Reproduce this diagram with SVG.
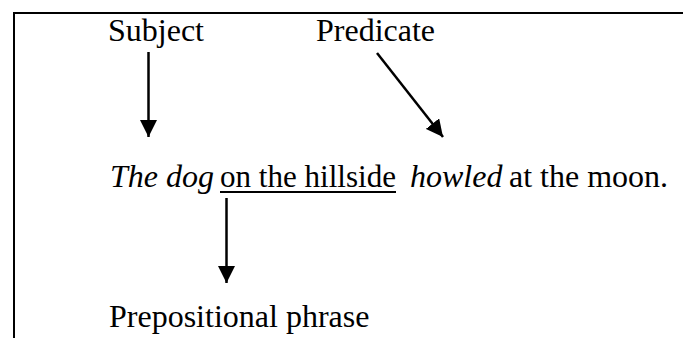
<svg xmlns="http://www.w3.org/2000/svg" width="683" height="338" viewBox="0 0 683 338">
<style>
.t{font-family:"Liberation Serif","Times New Roman",serif;font-size:32px;fill:#000}
.i{font-style:italic}
.c{stroke:#000;stroke-width:2.5;fill:none}
.frame{stroke:#000;stroke-width:2;fill:none}
</style>
<defs>
<marker id="ah" markerUnits="userSpaceOnUse" markerWidth="17" markerHeight="17" viewBox="0 0 16 16" refX="16" refY="8" orient="auto">
<path d="M0,0 L16,8 L0,16 Z" fill="#000"/>
</marker>
</defs>
<rect width="683" height="338" fill="#fff"/>
<path class="frame" d="M14,338 V13 H683"/>
<g id="subject"><text class="t" x="108" y="41">Subject</text></g>
<g id="predicate"><text class="t" x="316" y="41">Predicate</text></g>
<g id="sentence">
<text class="t" y="187"><tspan class="i" x="110">The dog</tspan> <tspan x="220" textLength="176" lengthAdjust="spacingAndGlyphs">on the hillside</tspan> <tspan class="i" x="410">howled</tspan> <tspan x="509">at the moon.</tspan></text>
<line x1="220" y1="192" x2="396" y2="192" stroke="#000" stroke-width="2"/>
</g>
<g id="prep"><text class="t" x="109" y="327">Prepositional phrase</text></g>
<g id="connectors">
<line class="c" x1="148.5" y1="52" x2="148.5" y2="137" marker-end="url(#ah)"/>
<line class="c" x1="377" y1="53" x2="443" y2="137" marker-end="url(#ah)"/>
<line class="c" x1="226.5" y1="198" x2="226.5" y2="283" marker-end="url(#ah)"/>
</g>
</svg>
